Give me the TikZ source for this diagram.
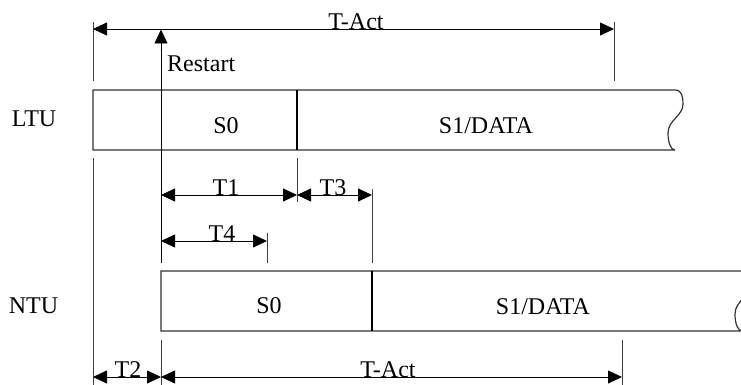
\documentclass[tikz,border=0pt]{standalone}
\usepackage{fontspec}
\setmainfont{Liberation Serif}
\usetikzlibrary{arrows.meta}
\begin{document}
\begin{tikzpicture}[x=1pt,y=-1pt,
  tip/.tip={Triangle[length=14pt,width=13pt]},
  dim/.style={tip-tip, line width=0.8pt},
  uparrow/.style={-tip, line width=0.8pt},
  tick/.style={line width=0.7pt, draw=black!75},
  box/.style={line width=1.2pt, draw=black!80},
  sep/.style={line width=1.6pt},
  lbl/.style={font=\fontsize{24}{26}\selectfont, inner sep=0pt, anchor=base},
]
\useasboundingbox (0,0) rectangle (741,385);
\clip (0,0) rectangle (741,385);

% --- coordinates ---
\coordinate (taL) at (93,29);   \coordinate (taR) at (614,29);
\coordinate (tkLa) at (93,22);  \coordinate (tkLb) at (93,81);
\coordinate (tkRa) at (614,22); \coordinate (tkRb) at (614,81);
\coordinate (lnA) at (93,158);  \coordinate (lnB) at (93,385);
\coordinate (rsA) at (161,263); \coordinate (rsB) at (161,29.5);
\coordinate (t1a) at (297,158); \coordinate (t1b) at (297,202);
\coordinate (t3a) at (372,189); \coordinate (t3b) at (372,263);
\coordinate (t4a) at (267,233); \coordinate (t4b) at (267,263);
\coordinate (bkLa) at (161,340); \coordinate (bkLb) at (161,385);
\coordinate (bkRa) at (622,340); \coordinate (bkRb) at (622,385);
\coordinate (T1l) at (161,195); \coordinate (T1r) at (297,195);
\coordinate (T3r) at (372,195);
\coordinate (T4l) at (161,241); \coordinate (T4r) at (267,241);
\coordinate (T2l) at (93,377);  \coordinate (T2r) at (161,377);
\coordinate (TAr) at (622,377);
\coordinate (dvLa) at (297,90); \coordinate (dvLb) at (297,150);
\coordinate (dvNa) at (372,271); \coordinate (dvNb) at (372,331);

% --- ticks and lines ---
\draw[tick] (tkLa) -- (tkLb);
\draw[tick] (tkRa) -- (tkRb);
\draw[tick] (lnA) -- (lnB);
\draw[tick] (t1a) -- (t1b);
\draw[tick] (t3a) -- (t3b);
\draw[tick] (t4a) -- (t4b);
\draw[tick] (bkLa) -- (bkLb);
\draw[tick] (bkRa) -- (bkRb);

% --- LTU box ---
\draw[box] (675,150) -- (93,150) -- (93,90) -- (675,90)
  .. controls (682,90) and (683,97) .. (683,104)
  .. controls (683,116) and (668,120) .. (668,133)
  .. controls (668,143) and (671,150) .. (675,150);
\draw[sep] (dvLa) -- (dvLb);

% --- NTU box ---
\draw[box] (742,331) -- (161,331) -- (161,271) -- (742,271)
  .. controls (749,271) and (750,278) .. (750,285)
  .. controls (750,297) and (735,301) .. (735,314)
  .. controls (735,324) and (738,331) .. (742,331);
\draw[sep] (dvNa) -- (dvNb);

% --- arrows ---
\draw[dim] (taL) -- (taR);
\draw[uparrow] (rsA) -- (rsB);
\draw[dim] (T1l) -- (T1r);
\draw[dim] (T1r) -- (T3r);
\draw[dim] (T4l) -- (T4r);
\draw[dim] (T2l) -- (T2r);
\draw[dim] (T2r) -- (TAr);

% --- labels ---
\node[lbl] (lTActTop) at (356,29.5) {T-Act};
\node[lbl, anchor=base west] (lRestart) at (167,72) {Restart};
\node[lbl] (lLTU) at (34,126) {LTU};
\node[lbl] (lNTU) at (33.5,313) {NTU};
\node[lbl] (lS0a) at (226,133) {S0};
\node[lbl] (lS1a) at (486,133) {S1/DATA};
\node[lbl] (lS0b) at (269,313) {S0};
\node[lbl] (lS1b) at (543,314) {S1/DATA};
\node[lbl] (lT1) at (226,195.5) {T1};
\node[lbl] (lT3) at (333,195.5) {T3};
\node[lbl] (lT4) at (222,241.5) {T4};
\node[lbl] (lT2) at (128,377.5) {T2};
\node[lbl] (lTActBot) at (388,377.5) {T-Act};
\end{tikzpicture}
\end{document}
